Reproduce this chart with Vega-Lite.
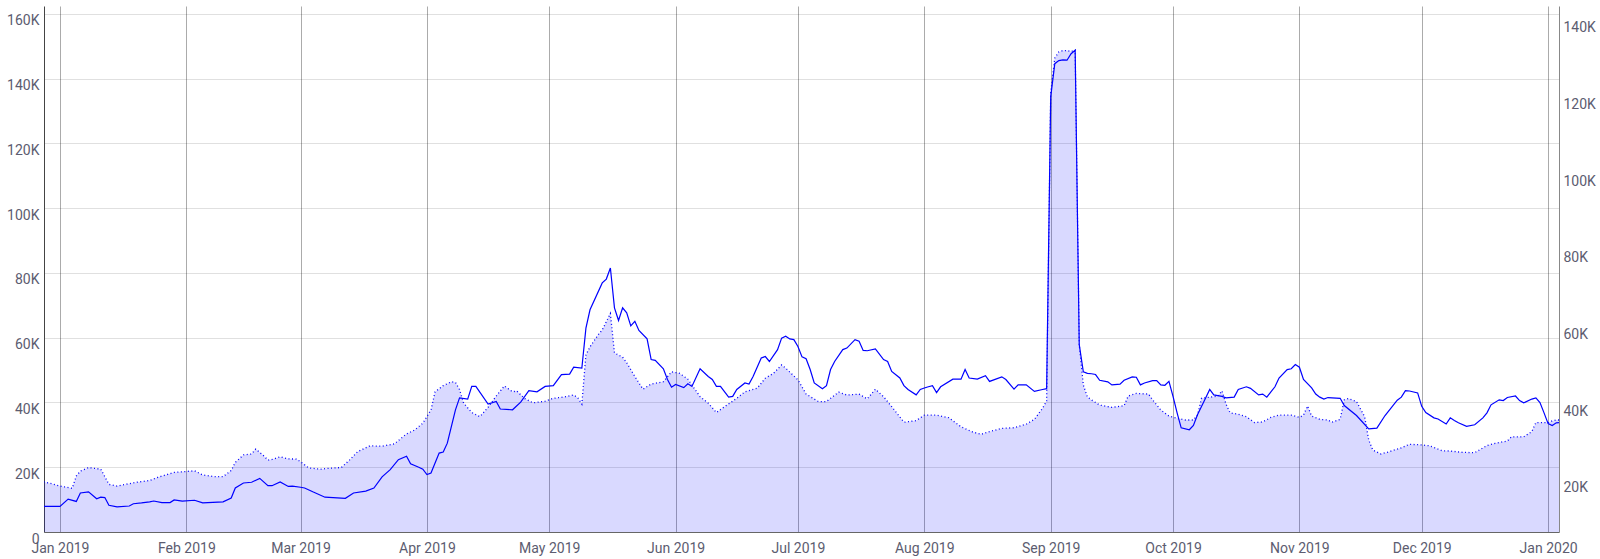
{
"$schema": "https://vega.github.io/schema/vega-lite/v6.json",
"width": 1515, "height": 526,
"autosize": {"type": "none"},
"padding": {"left": 44, "top": 6, "right": 41, "bottom": 27},
"background": "white",
"config": {"view": {"stroke": null}, "font": "Roboto",
 "axis": {"labelFont": "Roboto", "labelFontSize": 14, "labelColor": "#5c5c70", "ticks": false, "title": null, "domainColor": "#555", "zindex": 1}},
"datasets": {
"areaSeries": [
{"date":"2018-12-28","v":15500},{"date":"2018-12-30","v":14900},{"date":"2019-01-01","v":14200},{"date":"2019-01-04","v":13500},{"date":"2019-01-05","v":17300},{"date":"2019-01-06","v":18800},{"date":"2019-01-08","v":19900},{"date":"2019-01-11","v":19400},{"date":"2019-01-12","v":17100},{"date":"2019-01-13","v":14700},{"date":"2019-01-15","v":14200},{"date":"2019-01-17","v":14700},{"date":"2019-01-20","v":15400},{"date":"2019-01-23","v":15900},{"date":"2019-01-25","v":16900},{"date":"2019-01-29","v":18400},{"date":"2019-01-31","v":18600},
{"date":"2019-02-03","v":18900},{"date":"2019-02-05","v":17600},{"date":"2019-02-08","v":17100},{"date":"2019-02-10","v":17100},{"date":"2019-02-12","v":19000},{"date":"2019-02-13","v":21500},{"date":"2019-02-15","v":23800},{"date":"2019-02-17","v":24100},{"date":"2019-02-18","v":25600},{"date":"2019-02-20","v":23500},{"date":"2019-02-21","v":22200},{"date":"2019-02-22","v":22400},{"date":"2019-02-24","v":23200},{"date":"2019-02-26","v":22600},{"date":"2019-02-28","v":22500},
{"date":"2019-03-01","v":21700},{"date":"2019-03-03","v":19800},{"date":"2019-03-06","v":19400},{"date":"2019-03-08","v":19700},{"date":"2019-03-11","v":19900},{"date":"2019-03-13","v":22200},{"date":"2019-03-15","v":24800},{"date":"2019-03-18","v":26600},{"date":"2019-03-21","v":26500},{"date":"2019-03-24","v":27200},{"date":"2019-03-27","v":30300},{"date":"2019-03-29","v":31500},{"date":"2019-03-31","v":33600},
{"date":"2019-04-02","v":37700},{"date":"2019-04-03","v":43300},{"date":"2019-04-05","v":45200},{"date":"2019-04-07","v":46400},{"date":"2019-04-08","v":46200},{"date":"2019-04-09","v":44000},{"date":"2019-04-10","v":39800},{"date":"2019-04-12","v":36900},{"date":"2019-04-14","v":35600},{"date":"2019-04-16","v":38500},{"date":"2019-04-18","v":42000},{"date":"2019-04-20","v":45100},{"date":"2019-04-22","v":43300},{"date":"2019-04-23","v":43600},{"date":"2019-04-25","v":41200},{"date":"2019-04-27","v":39900},{"date":"2019-04-30","v":40400},
{"date":"2019-05-02","v":41300},{"date":"2019-05-04","v":41600},{"date":"2019-05-05","v":41800},{"date":"2019-05-07","v":42300},{"date":"2019-05-08","v":41500},{"date":"2019-05-09","v":39500},{"date":"2019-05-10","v":54700},{"date":"2019-05-11","v":57200},{"date":"2019-05-13","v":60900},{"date":"2019-05-14","v":62400},{"date":"2019-05-16","v":67500},{"date":"2019-05-17","v":55300},{"date":"2019-05-19","v":54000},{"date":"2019-05-20","v":52300},{"date":"2019-05-22","v":48000},{"date":"2019-05-24","v":44100},{"date":"2019-05-26","v":45700},{"date":"2019-05-29","v":46400},{"date":"2019-05-31","v":49500},
{"date":"2019-06-02","v":49000},{"date":"2019-06-04","v":47200},{"date":"2019-06-07","v":41800},{"date":"2019-06-09","v":39800},{"date":"2019-06-11","v":36900},{"date":"2019-06-13","v":38700},{"date":"2019-06-16","v":41300},{"date":"2019-06-18","v":43300},{"date":"2019-06-21","v":44400},{"date":"2019-06-23","v":47500},{"date":"2019-06-25","v":49000},{"date":"2019-06-27","v":51600},{"date":"2019-06-28","v":50600},
{"date":"2019-07-01","v":47000},{"date":"2019-07-03","v":42600},{"date":"2019-07-06","v":40300},{"date":"2019-07-08","v":40300},{"date":"2019-07-11","v":43200},{"date":"2019-07-13","v":42300},{"date":"2019-07-16","v":42600},{"date":"2019-07-18","v":41100},{"date":"2019-07-20","v":44100},{"date":"2019-07-22","v":41800},{"date":"2019-07-24","v":38700},{"date":"2019-07-27","v":33900},{"date":"2019-07-30","v":34400},
{"date":"2019-08-01","v":36100},{"date":"2019-08-04","v":36100},{"date":"2019-08-07","v":35300},{"date":"2019-08-10","v":32500},{"date":"2019-08-13","v":30800},{"date":"2019-08-15","v":30200},{"date":"2019-08-17","v":31000},{"date":"2019-08-20","v":32000},{"date":"2019-08-23","v":32200},{"date":"2019-08-26","v":33300},{"date":"2019-08-28","v":34800},{"date":"2019-08-30","v":38200},{"date":"2019-08-31","v":40500},
{"date":"2019-09-01","v":135600},{"date":"2019-09-02","v":146400},{"date":"2019-09-03","v":148300},{"date":"2019-09-04","v":148700},{"date":"2019-09-05","v":148700},{"date":"2019-09-06","v":148400},{"date":"2019-09-07","v":148900},{"date":"2019-09-08","v":57800},{"date":"2019-09-09","v":45400},{"date":"2019-09-10","v":41700},{"date":"2019-09-11","v":40800},{"date":"2019-09-13","v":39200},{"date":"2019-09-16","v":38500},{"date":"2019-09-19","v":39000},{"date":"2019-09-20","v":42000},{"date":"2019-09-22","v":42800},{"date":"2019-09-25","v":42600},{"date":"2019-09-26","v":40800},{"date":"2019-09-28","v":37700},{"date":"2019-09-30","v":35800},
{"date":"2019-10-02","v":35100},{"date":"2019-10-04","v":34600},{"date":"2019-10-06","v":34600},{"date":"2019-10-07","v":36100},{"date":"2019-10-08","v":41300},{"date":"2019-10-11","v":41800},{"date":"2019-10-12","v":42000},{"date":"2019-10-13","v":43600},{"date":"2019-10-14","v":39500},{"date":"2019-10-15","v":36800},{"date":"2019-10-17","v":36400},{"date":"2019-10-19","v":35600},{"date":"2019-10-21","v":33800},{"date":"2019-10-23","v":34000},{"date":"2019-10-25","v":35400},{"date":"2019-10-27","v":36100},{"date":"2019-10-30","v":36100},
{"date":"2019-11-01","v":35400},{"date":"2019-11-02","v":36100},{"date":"2019-11-03","v":38900},{"date":"2019-11-04","v":35800},{"date":"2019-11-06","v":34800},{"date":"2019-11-08","v":34600},{"date":"2019-11-09","v":33900},{"date":"2019-11-11","v":34800},{"date":"2019-11-12","v":40800},{"date":"2019-11-13","v":41200},{"date":"2019-11-15","v":40300},{"date":"2019-11-17","v":35600},{"date":"2019-11-18","v":28400},{"date":"2019-11-19","v":25300},{"date":"2019-11-21","v":24100},{"date":"2019-11-23","v":24800},{"date":"2019-11-26","v":26000},{"date":"2019-11-28","v":27100},
{"date":"2019-12-01","v":26900},{"date":"2019-12-03","v":26600},{"date":"2019-12-06","v":25100},{"date":"2019-12-08","v":25000},{"date":"2019-12-11","v":24600},{"date":"2019-12-14","v":24500},{"date":"2019-12-17","v":26700},{"date":"2019-12-19","v":27400},{"date":"2019-12-22","v":28100},{"date":"2019-12-23","v":29400},{"date":"2019-12-26","v":29400},{"date":"2019-12-28","v":31000},{"date":"2019-12-29","v":33800},{"date":"2020-01-01","v":33800},{"date":"2020-01-02","v":34300},{"date":"2020-01-03","v":34600},{"date":"2020-01-04","v":34600}
],
"lineSeries": [
{"date":"2018-12-28","v":13300},{"date":"2018-12-30","v":13300},{"date":"2019-01-01","v":13300},{"date":"2019-01-03","v":15200},{"date":"2019-01-05","v":14600},{"date":"2019-01-06","v":16800},{"date":"2019-01-08","v":17100},{"date":"2019-01-10","v":15300},{"date":"2019-01-11","v":15700},{"date":"2019-01-12","v":15600},{"date":"2019-01-13","v":13600},{"date":"2019-01-15","v":13200},{"date":"2019-01-18","v":13400},{"date":"2019-01-19","v":14000},{"date":"2019-01-21","v":14200},{"date":"2019-01-23","v":14500},{"date":"2019-01-24","v":14700},{"date":"2019-01-26","v":14300},{"date":"2019-01-28","v":14300},{"date":"2019-01-29","v":15000},{"date":"2019-01-31","v":14700},
{"date":"2019-02-03","v":14900},{"date":"2019-02-05","v":14200},{"date":"2019-02-10","v":14500},{"date":"2019-02-12","v":15500},{"date":"2019-02-13","v":18100},{"date":"2019-02-15","v":19400},{"date":"2019-02-17","v":19600},{"date":"2019-02-19","v":20600},{"date":"2019-02-21","v":18700},{"date":"2019-02-22","v":18700},{"date":"2019-02-24","v":19700},{"date":"2019-02-26","v":18500},{"date":"2019-02-27","v":18600},
{"date":"2019-03-01","v":18300},{"date":"2019-03-02","v":18100},{"date":"2019-03-04","v":17100},{"date":"2019-03-07","v":15700},{"date":"2019-03-12","v":15400},{"date":"2019-03-14","v":16800},{"date":"2019-03-17","v":17300},{"date":"2019-03-19","v":18100},{"date":"2019-03-21","v":21000},{"date":"2019-03-23","v":22900},{"date":"2019-03-25","v":25500},{"date":"2019-03-27","v":26400},{"date":"2019-03-28","v":24400},{"date":"2019-03-30","v":23500},{"date":"2019-03-31","v":23000},
{"date":"2019-04-01","v":21600},{"date":"2019-04-02","v":22000},{"date":"2019-04-04","v":27200},{"date":"2019-04-05","v":27500},{"date":"2019-04-06","v":29800},{"date":"2019-04-08","v":38500},{"date":"2019-04-09","v":41600},{"date":"2019-04-11","v":41300},{"date":"2019-04-12","v":44600},{"date":"2019-04-13","v":44600},{"date":"2019-04-16","v":40000},{"date":"2019-04-18","v":40700},{"date":"2019-04-19","v":38700},{"date":"2019-04-22","v":38500},{"date":"2019-04-24","v":40500},{"date":"2019-04-26","v":43500},{"date":"2019-04-28","v":43200},{"date":"2019-04-30","v":44600},
{"date":"2019-05-02","v":44800},{"date":"2019-05-04","v":47700},{"date":"2019-05-06","v":47800},{"date":"2019-05-07","v":49600},{"date":"2019-05-09","v":49400},{"date":"2019-05-10","v":59800},{"date":"2019-05-11","v":64600},{"date":"2019-05-14","v":71600},{"date":"2019-05-15","v":72600},{"date":"2019-05-16","v":75500},{"date":"2019-05-17","v":65100},{"date":"2019-05-18","v":61800},{"date":"2019-05-19","v":65100},{"date":"2019-05-20","v":63800},{"date":"2019-05-21","v":60400},{"date":"2019-05-22","v":61600},{"date":"2019-05-23","v":59200},{"date":"2019-05-25","v":57000},{"date":"2019-05-26","v":51600},{"date":"2019-05-27","v":51400},{"date":"2019-05-29","v":49200},{"date":"2019-05-30","v":46400},{"date":"2019-05-31","v":44400},
{"date":"2019-06-01","v":45100},{"date":"2019-06-03","v":44300},{"date":"2019-06-04","v":45300},{"date":"2019-06-05","v":44600},{"date":"2019-06-07","v":49200},{"date":"2019-06-09","v":47200},{"date":"2019-06-10","v":46400},{"date":"2019-06-11","v":44600},{"date":"2019-06-12","v":44600},{"date":"2019-06-14","v":41800},{"date":"2019-06-15","v":42000},{"date":"2019-06-16","v":43800},{"date":"2019-06-18","v":45500},{"date":"2019-06-19","v":45200},{"date":"2019-06-20","v":47200},{"date":"2019-06-22","v":52000},{"date":"2019-06-23","v":52400},{"date":"2019-06-24","v":51100},{"date":"2019-06-26","v":54200},{"date":"2019-06-27","v":57200},{"date":"2019-06-28","v":57700},{"date":"2019-06-29","v":57000},{"date":"2019-06-30","v":56800},
{"date":"2019-07-01","v":55000},{"date":"2019-07-02","v":52300},{"date":"2019-07-03","v":51800},{"date":"2019-07-04","v":49000},{"date":"2019-07-05","v":45500},{"date":"2019-07-07","v":44000},{"date":"2019-07-08","v":44800},{"date":"2019-07-09","v":49000},{"date":"2019-07-10","v":51100},{"date":"2019-07-12","v":54200},{"date":"2019-07-13","v":54600},{"date":"2019-07-15","v":56800},{"date":"2019-07-16","v":56400},{"date":"2019-07-17","v":54000},{"date":"2019-07-18","v":53900},{"date":"2019-07-20","v":54400},{"date":"2019-07-22","v":51600},{"date":"2019-07-23","v":51100},{"date":"2019-07-24","v":48500},{"date":"2019-07-26","v":46800},{"date":"2019-07-27","v":44800},{"date":"2019-07-28","v":43800},{"date":"2019-07-30","v":42400},{"date":"2019-07-31","v":43800},
{"date":"2019-08-01","v":44200},{"date":"2019-08-02","v":44500},{"date":"2019-08-03","v":44800},{"date":"2019-08-04","v":43000},{"date":"2019-08-05","v":44500},{"date":"2019-08-08","v":46500},{"date":"2019-08-10","v":46500},{"date":"2019-08-11","v":49000},{"date":"2019-08-12","v":46800},{"date":"2019-08-14","v":46500},{"date":"2019-08-16","v":47400},{"date":"2019-08-17","v":45900},{"date":"2019-08-20","v":47100},{"date":"2019-08-21","v":46400},{"date":"2019-08-23","v":43900},{"date":"2019-08-24","v":45000},{"date":"2019-08-26","v":45000},{"date":"2019-08-28","v":43300},{"date":"2019-08-30","v":43800},{"date":"2019-08-31","v":44000},
{"date":"2019-09-01","v":120200},{"date":"2019-09-02","v":128800},{"date":"2019-09-03","v":129600},{"date":"2019-09-04","v":129800},{"date":"2019-09-05","v":129700},{"date":"2019-09-06","v":131400},{"date":"2019-09-07","v":132300},{"date":"2019-09-08","v":55500},{"date":"2019-09-09","v":48400},{"date":"2019-09-10","v":48000},{"date":"2019-09-11","v":47900},{"date":"2019-09-12","v":47700},{"date":"2019-09-13","v":46200},{"date":"2019-09-15","v":45800},{"date":"2019-09-16","v":45000},{"date":"2019-09-18","v":45200},{"date":"2019-09-19","v":46200},{"date":"2019-09-21","v":47100},{"date":"2019-09-22","v":47000},{"date":"2019-09-23","v":45000},{"date":"2019-09-24","v":45500},{"date":"2019-09-26","v":46100},{"date":"2019-09-27","v":46100},{"date":"2019-09-28","v":45000},{"date":"2019-09-29","v":44900},{"date":"2019-09-30","v":45900},
{"date":"2019-10-01","v":42000},{"date":"2019-10-02","v":37700},{"date":"2019-10-03","v":33800},{"date":"2019-10-05","v":33300},{"date":"2019-10-06","v":34400},{"date":"2019-10-07","v":37200},{"date":"2019-10-09","v":41600},{"date":"2019-10-10","v":43800},{"date":"2019-10-11","v":42400},{"date":"2019-10-13","v":42000},{"date":"2019-10-14","v":41600},{"date":"2019-10-16","v":41800},{"date":"2019-10-17","v":43800},{"date":"2019-10-19","v":44500},{"date":"2019-10-20","v":44100},{"date":"2019-10-22","v":42400},{"date":"2019-10-23","v":42600},{"date":"2019-10-24","v":41800},{"date":"2019-10-26","v":44500},{"date":"2019-10-27","v":46800},{"date":"2019-10-29","v":49000},{"date":"2019-10-30","v":49200},{"date":"2019-10-31","v":50300},
{"date":"2019-11-01","v":49600},{"date":"2019-11-02","v":46400},{"date":"2019-11-04","v":44200},{"date":"2019-11-05","v":42600},{"date":"2019-11-06","v":41800},{"date":"2019-11-07","v":41300},{"date":"2019-11-08","v":41700},{"date":"2019-11-11","v":41500},{"date":"2019-11-12","v":39600},{"date":"2019-11-15","v":37000},{"date":"2019-11-18","v":33500},{"date":"2019-11-20","v":33700},{"date":"2019-11-22","v":37000},{"date":"2019-11-25","v":41000},{"date":"2019-11-26","v":41800},{"date":"2019-11-27","v":43500},{"date":"2019-11-28","v":43400},{"date":"2019-11-30","v":42900},
{"date":"2019-12-01","v":39400},{"date":"2019-12-02","v":37800},{"date":"2019-12-04","v":36400},{"date":"2019-12-05","v":36100},{"date":"2019-12-07","v":34800},{"date":"2019-12-08","v":36400},{"date":"2019-12-09","v":35700},{"date":"2019-12-10","v":35100},{"date":"2019-12-12","v":34200},{"date":"2019-12-14","v":34600},{"date":"2019-12-16","v":36400},{"date":"2019-12-17","v":37700},{"date":"2019-12-18","v":39800},{"date":"2019-12-20","v":41100},{"date":"2019-12-21","v":40900},{"date":"2019-12-22","v":41700},{"date":"2019-12-24","v":42100},{"date":"2019-12-25","v":40900},{"date":"2019-12-26","v":40300},{"date":"2019-12-28","v":41300},{"date":"2019-12-29","v":41600},{"date":"2019-12-30","v":40400},{"date":"2019-12-31","v":37700},{"date":"2020-01-01","v":34900},{"date":"2020-01-02","v":34400},{"date":"2020-01-03","v":35100},{"date":"2020-01-04","v":35200}
]
},
"layer": [
 {
  "data": {"name": "areaSeries"},
  "encoding": {
   "x": {"field": "date", "type": "temporal",
     "scale": {"type": "utc", "domain": [1545962112000, 1578067488000]},
     "axis": {"format": "%b %Y", "tickCount": {"interval": "month", "step": 1}, "labelOverlap": false, "labelFlush": false, "labelPadding": 9, "grid": true, "gridColor": "#000", "gridOpacity": 0.33, "domainColor": "#666"}},
   "y": {"field": "v", "type": "quantitative",
     "scale": {"domain": [0, 162470], "nice": false},
     "axis": {"values": [0,20000,40000,60000,80000,100000,120000,140000,160000], "labelExpr": "replace(format(datum.value, '~s'), 'k', 'K')", "labelBaseline": "top", "labelPadding": 5, "grid": true, "gridColor": "#000", "gridOpacity": 0.12, "domainColor": "#444"}}
  },
  "layer": [
   {"mark": {"type": "area", "color": "#0000ff", "opacity": 0.15, "clip": true}},
   {"mark": {"type": "line", "color": "#0000ff", "strokeWidth": 1.3, "strokeDash": [1, 2.5], "clip": true}}
  ]
 },
 {
  "data": {"name": "lineSeries"},
  "mark": {"type": "line", "color": "#0000ff", "strokeWidth": 1.2, "clip": true},
  "encoding": {
   "x": {"field": "date", "type": "temporal", "scale": {"type": "utc", "domain": [1545962112000, 1578067488000]}},
   "y": {"field": "v", "type": "quantitative",
     "scale": {"domain": [6620, 143840], "nice": false, "zero": false},
     "axis": {"orient": "right", "values": [20000,40000,60000,80000,100000,120000,140000], "labelExpr": "replace(format(datum.value, '~s'), 'k', 'K')", "labelBaseline": "top", "labelPadding": 4, "grid": false, "domainColor": "#888"}}
  }
 }
],
"resolve": {"scale": {"y": "independent"}}
}
